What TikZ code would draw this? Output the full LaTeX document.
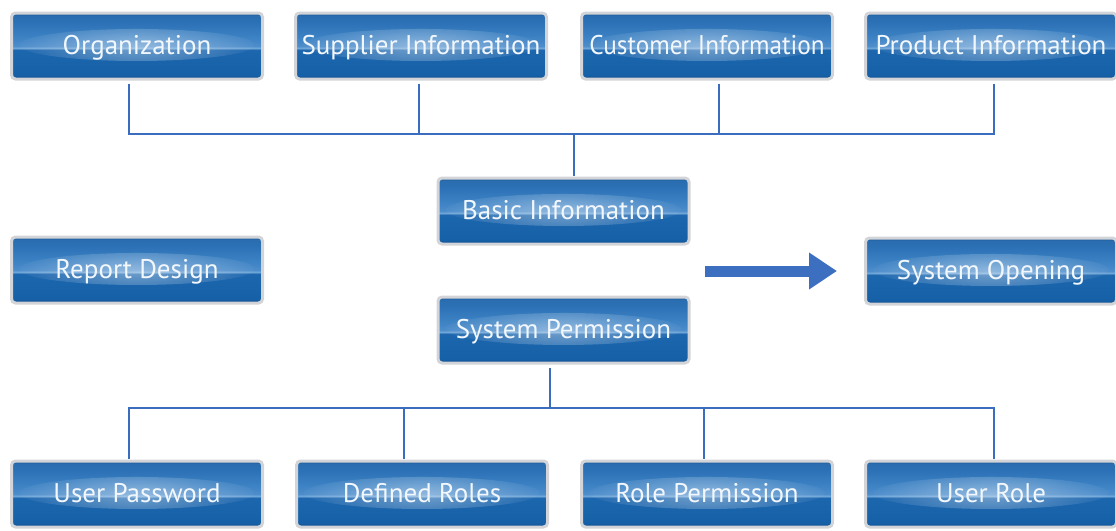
\documentclass[tikz,border=0pt]{standalone}
\usepackage{fontspec}
\setmainfont{PT Sans}
\usetikzlibrary{arrows.meta,fadings,calc}
\definecolor{linkblue}{HTML}{3A6CC0}
\definecolor{arrowblue}{HTML}{3D6FC1}
\definecolor{btnborder}{HTML}{D2D4D7}
\definecolor{btntext}{HTML}{F2F7FC}
\definecolor{sA}{HTML}{0E4A88}
\definecolor{sB}{HTML}{1660A8}
\definecolor{sC}{HTML}{1A64AC}
\definecolor{sD}{HTML}{1C66AE}
\definecolor{sE}{HTML}{6FA6D8}
\definecolor{sF}{HTML}{4C8CCB}
\definecolor{sG}{HTML}{3A80C2}
\definecolor{sH}{HTML}{2C71B5}
\definecolor{sI}{HTML}{2A6DB0}
\definecolor{sJ}{HTML}{1A5590}
\pgfdeclareverticalshading{btnshade}{100bp}{%
  color(0bp)=(sA); color(25bp)=(sA); color(28bp)=(sB); color(40bp)=(sC);
  color(47bp)=(sD); color(48.5bp)=(sE); color(50bp)=(sF); color(58bp)=(sG);
  color(68bp)=(sH); color(73bp)=(sI); color(75bp)=(sJ); color(100bp)=(sJ)}
\tikzfading[name=glow, inner color=transparent!0, outer color=transparent!100]
\tikzset{
  btn/.style={rounded corners=4pt, minimum width=251pt, minimum height=66pt,
    draw=btnborder, line width=3pt, shading=btnshade, text=btntext,
    font=\fontsize{27}{27}\selectfont, inner sep=0pt, text height=17pt, text depth=0pt,
    path picture={\fill[white,opacity=0.38,path fading=glow]
      ($(path picture bounding box.center)+(0pt,1pt)$) ellipse (118pt and 16pt);}},
  link/.style={draw=linkblue, line width=2.2pt},
  bigarrow/.style={draw=arrowblue, line width=11pt,
    -{Triangle[length=28pt,width=35pt]}}
}
\begin{document}
\begin{tikzpicture}[x=1pt,y=-1pt]
\useasboundingbox (0,0) rectangle (1116,530);
% top row
\node[btn] (org) at (137,46) {Organization};
\node[btn] (sup) at (421,46) {Supplier Information};
\node[btn] (cus) at (707,46) {\scalebox{0.935}[1]{Customer Information}};
\node[btn] (pro) at (991,46) {Product Information};
% middle
\node[btn] (basic) at (563.5,211) {Basic Information};
\node[btn] (perm) at (563.5,330) {System Permission};
\node[btn] (report) at (137,270) {Report Design};
\node[btn] (open) at (991,271) {System Opening};
% bottom row
\node[btn] (upw) at (137,494) {User Password};
\node[btn] (def) at (422,494) {Defined Roles};
\node[btn] (rp) at (707,494) {Role Permission};
\node[btn] (ur) at (991,494) {User Role};
% top connectors
\coordinate (hubT) at (574,134);
\foreach \n/\dx in {org/-8, sup/-2, cus/12, pro/3}
  \draw[link] ([xshift=\dx pt,yshift=-3pt]\n.south) |- (hubT);
\draw[link] (hubT) -- ([xshift=10.5pt,yshift=1pt]basic.north);
% bottom connectors
\coordinate (hubB) at (550,408);
\draw[link] ([xshift=-13.5pt,yshift=-3pt]perm.south) -- (hubB);
\foreach \n/\dx in {upw/-8, def/-18, rp/-3, ur/3}
  \draw[link] ([xshift=\dx pt,yshift=1pt]\n.north) |- (hubB);
% arrow
\coordinate (arrS) at (705,271);
\draw[bigarrow] (arrS) -- ([xshift=-27pt]open.west);
\end{tikzpicture}
\end{document}
